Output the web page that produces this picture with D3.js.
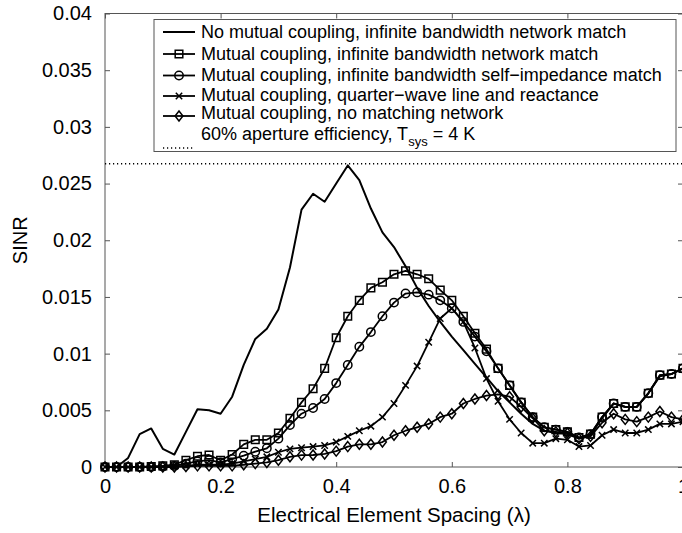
<!DOCTYPE html>
<html>
<head>
<meta charset="utf-8">
<script src="https://cdn.jsdelivr.net/npm/d3@7"></script>
<style>
  body { margin: 0; background: #fff; }
  svg { display: block; font-family: "Liberation Sans", Arial, sans-serif; }
</style>
</head>
<body>
<div class="chart"></div>
<script>
// element spacing in wavelengths, 0 to 1 in steps of 0.02
const spacing = d3.range(51).map(i => +(i * 0.02).toFixed(2));

const noCoupling = [0, 0, 0.0008, 0.0029, 0.0034, 0.0016, 0.0011, 0.0031, 0.0051, 0.0050,
  0.0047, 0.0062, 0.0090, 0.0113, 0.0122, 0.0139, 0.0176, 0.0227, 0.0241, 0.0234,
  0.0250, 0.0266, 0.0253, 0.0228, 0.0207, 0.0194, 0.0177, 0.0158, 0.0142, 0.0128,
  0.0115, 0.0103, 0.0091, 0.0079, 0.0067, 0.0057, 0.0047, 0.0038, 0.0032, 0.0030,
  0.0029, 0.0025, 0.0028, 0.0043, 0.0056, 0.0053, 0.0053, 0.0065, 0.0080, 0.0082, 0.0087];

const networkMatch = [0, 0, 0, 0, 0.00005, 0.0001, 0.0002, 0.0006, 0.00095, 0.00106,
  0.0006, 0.0011, 0.0020, 0.0024, 0.0024, 0.0030, 0.0043, 0.0057, 0.0069, 0.0087,
  0.0114, 0.0133, 0.0147, 0.0158, 0.0163, 0.0170, 0.0173, 0.0170, 0.0166, 0.0156,
  0.0147, 0.0133, 0.0118, 0.0104, 0.0087, 0.0072, 0.0057, 0.0044, 0.0035, 0.0033,
  0.0031, 0.0026, 0.0029, 0.0044, 0.0056, 0.0053, 0.0053, 0.0065, 0.0081, 0.0082, 0.0087];

const selfMatch = [0, 0, 0, 0, 0, 0.00005, 0.0001, 0.0003, 0.0005, 0.0006,
  0.0004, 0.0007, 0.0010, 0.00135, 0.00165, 0.0025, 0.0037, 0.0047, 0.0052, 0.0060,
  0.0074, 0.0090, 0.0106, 0.0119, 0.0133, 0.0145, 0.0153, 0.0154, 0.0152, 0.0147,
  0.0140, 0.0128, 0.0115, 0.0102, 0.0087, 0.0072, 0.0057, 0.0044, 0.0035, 0.0033,
  0.0031, 0.0026, 0.0029, 0.0044, 0.0056, 0.0053, 0.0053, 0.0065, 0.0081, 0.0082, 0.0087];

const quarterWave = [0, 0, 0, 0, 0, 0, 0.00005, 0.0001, 0.0002, 0.0002,
  0.0002, 0.0003, 0.0005, 0.0007, 0.0009, 0.0013, 0.0016, 0.0017, 0.0018, 0.0019,
  0.0022, 0.0027, 0.0032, 0.0036, 0.0044, 0.0056, 0.0072, 0.0089, 0.0110, 0.0131,
  0.0140, 0.0128, 0.0105, 0.0078, 0.0058, 0.0042, 0.0030, 0.0021, 0.0021, 0.0025,
  0.0024, 0.0018, 0.0019, 0.0028, 0.0033, 0.0030, 0.0030, 0.0033, 0.0038, 0.0038, 0.0040];

const noMatching = [0, 0, 0, 0, 0, 0, 0, 0.00005, 0.0001, 0.0001,
  0.0001, 0.0001, 0.0002, 0.0003, 0.0004, 0.0006, 0.0009, 0.00105, 0.00106, 0.00115,
  0.0014, 0.0018, 0.0020, 0.0020, 0.0022, 0.0028, 0.0032, 0.0035, 0.0038, 0.0044,
  0.0047, 0.0056, 0.0060, 0.0063, 0.0064, 0.0062, 0.0053, 0.0043, 0.0032, 0.0031,
  0.0030, 0.0025, 0.0027, 0.0039, 0.0047, 0.0042, 0.0040, 0.0044, 0.0049, 0.0044, 0.0042];

const efficiencyLevel = 0.02674;

const xTicks = [0, 0.2, 0.4, 0.6, 0.8, 1];
const xTickLabels = ["0", "0.2", "0.4", "0.6", "0.8", "1"];
const yTicks = [0, 0.005, 0.01, 0.015, 0.02, 0.025, 0.03, 0.035, 0.04];
const yTickLabels = ["0", "0.005", "0.01", "0.015", "0.02", "0.025", "0.03", "0.035", "0.04"];

const legendLabels = [
  "No mutual coupling, infinite bandwidth network match",
  "Mutual coupling, infinite bandwidth network match",
  "Mutual coupling, infinite bandwidth self\u2212impedance match",
  "Mutual coupling, quarter\u2212wave line and reactance",
  "Mutual coupling, no matching network"
];

const width = 682;
const height = 533;
const plotLeft = 105, plotRight = 683, plotTop = 13.5, plotBottom = 467;

const svg = d3.select(".chart")
  .append("svg")
  .attr("width", width)
  .attr("height", height)
  .attr("viewBox", [0, 0, width, height]);

const x = d3.scaleLinear().domain([0, 1]).range([plotLeft, plotRight]);
const y = d3.scaleLinear().domain([0, 0.04]).range([plotBottom, plotTop]);

// marker shapes drawn around (0,0)
const markers = {
  none: null,
  square: "M-3.8,-3.8H3.8V3.8H-3.8Z",
  circle: "M4.2,0A4.2,4.2 0 1 1 -4.2,0A4.2,4.2 0 1 1 4.2,0Z",
  cross: "M-3.2,-3.2L3.2,3.2M-3.2,3.2L3.2,-3.2",
  diamond: "M0,-5L3.9,0L0,5L-3.9,0Z"
};

const series = [
  {values: noCoupling, marker: "none", width: 2},
  {values: networkMatch, marker: "square", width: 1.8},
  {values: selfMatch, marker: "circle", width: 1.8},
  {values: quarterWave, marker: "cross", width: 1.8},
  {values: noMatching, marker: "diamond", width: 1.8}
];

// box and ticks
const axisColor = "#555";
svg.append("rect")
  .attr("x", plotLeft).attr("y", plotTop)
  .attr("width", plotRight - plotLeft).attr("height", plotBottom - plotTop)
  .attr("fill", "none").attr("stroke", axisColor).attr("stroke-width", 1);

const xAxis = svg.append("g").attr("transform", `translate(0,${plotBottom})`)
  .call(d3.axisBottom(x).tickValues(xTicks).tickSizeInner(-5).tickSizeOuter(0)
    .tickPadding(12).tickFormat((d, i) => xTickLabels[i]));
const xAxisTop = svg.append("g").attr("transform", `translate(0,${plotTop})`)
  .call(d3.axisTop(x).tickValues(xTicks).tickSizeInner(-5).tickSizeOuter(0).tickFormat(""));
const yAxis = svg.append("g").attr("transform", `translate(${plotLeft},0)`)
  .call(d3.axisLeft(y).tickValues(yTicks).tickSizeInner(-5).tickSizeOuter(0)
    .tickPadding(13).tickFormat((d, i) => yTickLabels[i]));
const yAxisRight = svg.append("g").attr("transform", `translate(${plotRight},0)`)
  .call(d3.axisRight(y).tickValues(yTicks).tickSizeInner(-5).tickSizeOuter(0).tickFormat(""));

[xAxis, xAxisTop, yAxis, yAxisRight].forEach(g => {
  g.select(".domain").remove();
  g.selectAll(".tick line").attr("stroke", axisColor);
  g.selectAll(".tick text")
    .attr("fill", "#000")
    .style("font-size", "20px")
    .style("font-family", "'Liberation Sans', Arial, sans-serif");
});

svg.append("text")
  .attr("x", (plotLeft + plotRight) / 2)
  .attr("y", 522)
  .attr("text-anchor", "middle")
  .style("font-size", "20.5px")
  .text("Electrical Element Spacing (\u03bb)");

svg.append("text")
  .attr("transform", `translate(27,${(plotTop + plotBottom) / 2}) rotate(-90)`)
  .attr("text-anchor", "middle")
  .style("font-size", "20px")
  .text("SINR");

// dotted aperture efficiency level
svg.append("line")
  .attr("x1", x(0)).attr("x2", x(1))
  .attr("y1", y(efficiencyLevel)).attr("y2", y(efficiencyLevel))
  .attr("stroke", "#000").attr("stroke-width", 1.5)
  .attr("stroke-dasharray", "1.2,2.8");

const line = d3.line()
  .x((d, i) => x(spacing[i]))
  .y(d => y(d));

series.forEach(s => {
  svg.append("path")
    .datum(s.values)
    .attr("d", line)
    .attr("fill", "none")
    .attr("stroke", "#000")
    .attr("stroke-width", s.width)
    .attr("stroke-linejoin", "round");
  if (markers[s.marker]) {
    svg.append("g").selectAll("path")
      .data(s.values)
      .join("path")
      .attr("transform", (d, i) => `translate(${x(spacing[i])},${y(d)})`)
      .attr("d", markers[s.marker])
      .attr("fill", "none")
      .attr("stroke", "#000")
      .attr("stroke-width", 1.5);
  }
});

// legend
const legend = svg.append("g");
legend.append("rect")
  .attr("x", 154).attr("y", 19.5)
  .attr("width", 522).attr("height", 132)
  .attr("fill", "#fff").attr("stroke", axisColor).attr("stroke-width", 1);

const rowSample = [32, 54, 75.5, 96, 116];
const rowBase = [38, 59.5, 81, 101, 119];

series.forEach((s, i) => {
  legend.append("line")
    .attr("x1", 163).attr("x2", 195)
    .attr("y1", rowSample[i]).attr("y2", rowSample[i])
    .attr("stroke", "#000").attr("stroke-width", s.width);
  if (markers[s.marker]) {
    legend.append("path")
      .attr("transform", `translate(179,${rowSample[i]})`)
      .attr("d", markers[s.marker])
      .attr("fill", "none").attr("stroke", "#000").attr("stroke-width", 1.5);
  }
  legend.append("text")
    .attr("x", 201).attr("y", rowBase[i])
    .style("font-size", "18px")
    .text(legendLabels[i]);
});

legend.append("line")
  .attr("x1", 163).attr("x2", 195)
  .attr("y1", 148).attr("y2", 148)
  .attr("stroke", "#000").attr("stroke-width", 1.5)
  .attr("stroke-dasharray", "1.2,2.8");

const effText = legend.append("text")
  .attr("x", 201).attr("y", 139.5)
  .style("font-size", "18px");
effText.append("tspan").text("60% aperture efficiency, T");
effText.append("tspan").attr("dy", 6.5).style("font-size", "13px").text("sys");
effText.append("tspan").attr("dy", -6.5).text(" = 4 K");
</script>
</body>
</html>
